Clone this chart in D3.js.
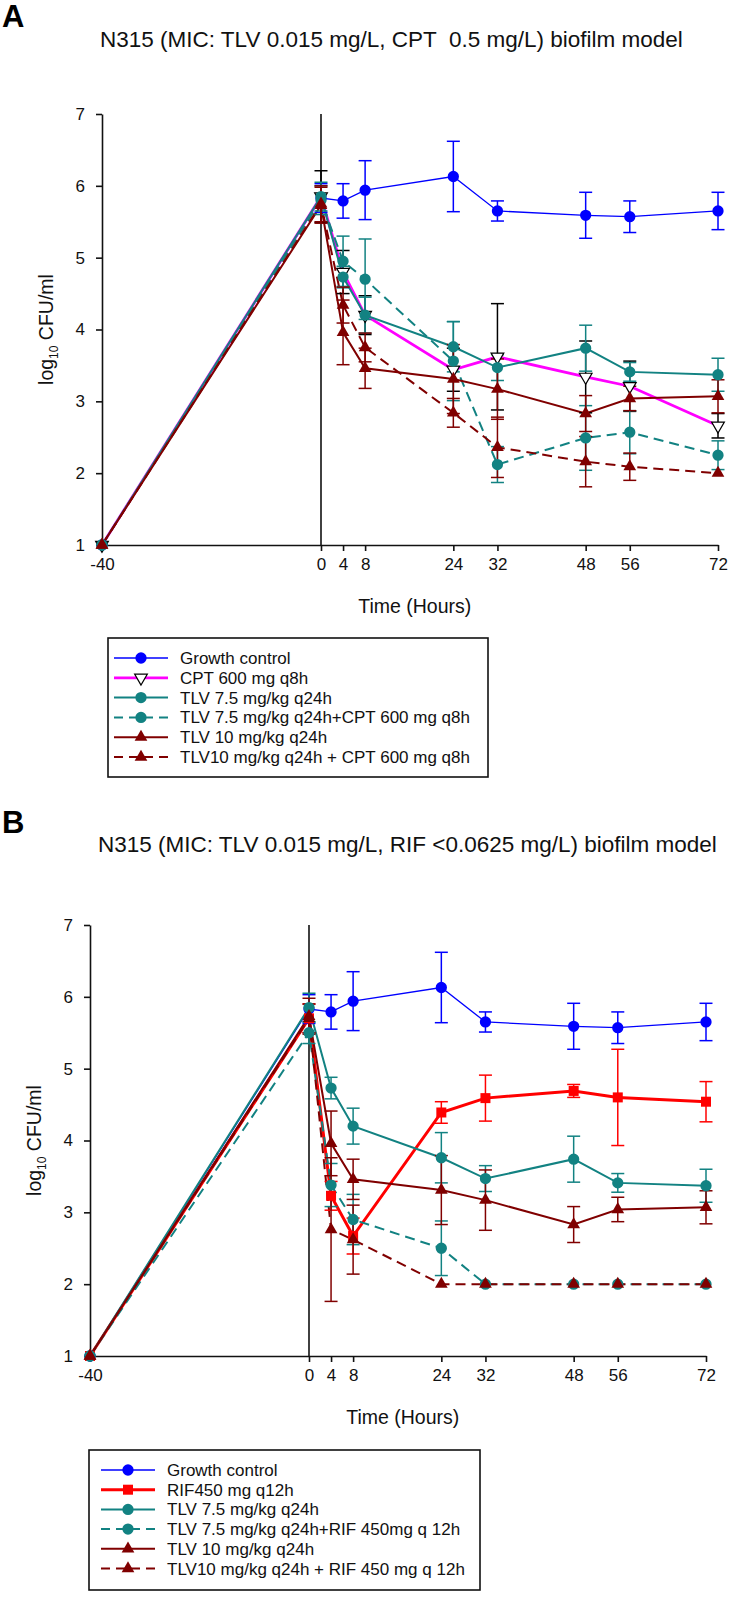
<!DOCTYPE html>
<html><head><meta charset="utf-8">
<script src="https://cdn.jsdelivr.net/npm/d3@7"></script>
<style>body{margin:0;background:#fff} svg{display:block} text{font-family:"Liberation Sans",Arial,sans-serif;fill:#111}</style>
</head><body><svg id="c" width="753" height="1599"></svg>
<script>
// ---------- data ----------
const times = [-40, 0, 4, 8, 24, 32, 48, 56, 72];
const xTickLabels = [-40, 0, 4, 8, 24, 32, 48, 56, 72];
const yTickLabels = [1, 2, 3, 4, 5, 6, 7];

const growth      = [1.0, 5.83, 5.79, 5.94, 6.13, 5.65, 5.59, 5.57, 5.65];
const growthErr   = [0, 0.20, 0.24, 0.41, 0.49, 0.14, 0.32, 0.22, 0.26];
const cpt         = [1.0, 5.85, 4.80, 4.20, 3.44, 3.62, 3.34, 3.21, 2.66];
const cptErr      = [0, 0.36, 0.30, 0.27, 0.30, 0.74, 0.50, 0.35, 0.17];
const tlv75       = [1.0, 5.85, 4.73, 4.20, 3.76, 3.47, 3.74, 3.41, 3.37];
const tlv75Err    = [0, 0.20, 0.15, 0.25, 0.35, 0.18, 0.32, 0.13, 0.23];
const tlv75cpt    = [1.0, 5.80, 4.95, 4.70, 3.56, 2.12, 2.49, 2.57, 2.25];
const tlv75cptErr = [0, 0.20, 0.35, 0.56, 0.55, 0.25, 0.45, 0.30, 0.20];
const tlv10       = [1.0, 5.73, 3.96, 3.46, 3.31, 3.17, 2.83, 3.04, 3.07];
const tlv10Err    = [0, 0.25, 0.45, 0.28, 0.48, 0.42, 0.25, 0.17, 0.23];
const tlv10cpt    = [1.0, 5.75, 4.34, 3.75, 2.84, 2.36, 2.16, 2.09, 2.00];
const tlv10cptErr = [0, 0.25, 0.25, 0.20, 0.20, 0.42, 0.35, 0.19, 0];

const rif         = [1.0, 5.70, 3.23, 2.67, 4.39, 4.59, 4.69, 4.60, 4.54];
const rifErr      = [0, 0.20, 0.20, 0.25, 0.15, 0.32, 0.09, 0.67, 0.28];
const tlv75rif    = [1.0, 5.50, 3.38, 2.90, 2.50, 2.00, 2.00, 2.00, 2.00];
const tlv75rifErr = [0, 0.15, 0.30, 0.35, 0.38, 0, 0, 0, 0];
const tlv10rif    = [1.0, 5.70, 2.76, 2.62, 2.00, 2.00, 2.00, 2.00, 2.00];
const tlv10rifErr = [0, 0.20, 1.00, 0.48, 0, 0, 0, 0, 0];

const namesA = ["Growth control", "CPT 600 mg q8h", "TLV 7.5 mg/kg q24h",
  "TLV 7.5 mg/kg q24h+CPT 600 mg q8h", "TLV 10 mg/kg q24h", "TLV10 mg/kg q24h + CPT 600 mg q8h"];
const namesB = ["Growth control", "RIF450 mg q12h", "TLV 7.5 mg/kg q24h",
  "TLV 7.5 mg/kg q24h+RIF 450mg q 12h", "TLV 10 mg/kg q24h", "TLV10 mg/kg q24h + RIF 450 mg q 12h"];

// ---------- styles ----------
const BLUE = "#0000ff", MAG = "#ff00ff", TEAL = "#128282", DRED = "#800000", RED = "#ff0000";
const DASH = "10,6";

const svg = d3.select("#c");
svg.append("rect").attr("width", 753).attr("height", 1599).attr("fill", "#fff");

function styleA() {
  return [
    {name: namesA[0], v: growth, e: growthErr, color: BLUE, ecol: BLUE, w: 1.3, dash: null, m: "circle", fill: BLUE},
    {name: namesA[1], v: cpt, e: cptErr, color: MAG, ecol: "#000", w: 2.8, dash: null, m: "down", fill: "#fff", stroke: "#000"},
    {name: namesA[2], v: tlv75, e: tlv75Err, color: TEAL, ecol: TEAL, w: 2, dash: null, m: "circle", fill: TEAL},
    {name: namesA[3], v: tlv75cpt, e: tlv75cptErr, color: TEAL, ecol: TEAL, w: 2, dash: DASH, m: "circle", fill: TEAL},
    {name: namesA[4], v: tlv10, e: tlv10Err, color: DRED, ecol: DRED, w: 2, dash: null, m: "up", fill: DRED},
    {name: namesA[5], v: tlv10cpt, e: tlv10cptErr, color: DRED, ecol: DRED, w: 2, dash: DASH, m: "up", fill: DRED}
  ];
}
function styleB() {
  return [
    {name: namesB[0], v: growth, e: growthErr, color: BLUE, ecol: BLUE, w: 1.3, dash: null, m: "circle", fill: BLUE},
    {name: namesB[1], v: rif, e: rifErr, color: RED, ecol: RED, w: 3, dash: null, m: "square", fill: RED},
    {name: namesB[2], v: tlv75, e: tlv75Err, color: TEAL, ecol: TEAL, w: 2, dash: null, m: "circle", fill: TEAL},
    {name: namesB[3], v: tlv75rif, e: tlv75rifErr, color: TEAL, ecol: TEAL, w: 2, dash: DASH, m: "circle", fill: TEAL},
    {name: namesB[4], v: tlv10, e: tlv10Err, color: DRED, ecol: DRED, w: 2, dash: null, m: "up", fill: DRED},
    {name: namesB[5], v: tlv10rif, e: tlv10rifErr, color: DRED, ecol: DRED, w: 2, dash: DASH, m: "up", fill: DRED}
  ];
}

function marker(g, s, x, y) {
  let sym;
  if (s.m === "circle") sym = d3.symbol().type(d3.symbolCircle).size(100);
  else if (s.m === "square") sym = d3.symbol().type(d3.symbolSquare).size(100);
  else sym = d3.symbol().type(d3.symbolTriangle).size(70);
  g.append("path").attr("d", sym())
    .attr("transform", `translate(${x},${y})` + (s.m === "down" ? " rotate(180)" : ""))
    .attr("fill", s.fill).attr("stroke", s.stroke || "none").attr("stroke-width", 1.2);
}

function panel(cfg) {
  const x = d3.scaleLinear().domain([-40, 0, 72]).range(cfg.xr);
  const y = d3.scaleLinear().domain([1, 7]).range(cfg.yr);
  const g = svg.append("g");

  // letter + title
  svg.append("text").attr("x", 2).attr("y", cfg.letterY).attr("font-size", 31).attr("font-weight", "bold")
    .style("fill", "#000").text(cfg.letter);
  svg.append("text").attr("x", cfg.titleX).attr("y", cfg.titleY).attr("font-size", 22.5)
    .style("white-space", "pre").text(cfg.title);

  // axes
  const ya = g.append("g").attr("transform", `translate(${cfg.xr[0]},0)`)
    .call(d3.axisLeft(y).tickValues(yTickLabels).tickSize(6).tickSizeOuter(0).tickPadding(11).tickFormat(d => String(d)));
  const xa = g.append("g").attr("transform", `translate(0,${cfg.yr[0]})`)
    .call(d3.axisBottom(x).tickValues(xTickLabels).tickSize(6).tickSizeOuter(0).tickPadding(7).tickFormat(d => String(d)));
  [ya, xa].forEach(a => {
    a.selectAll("path,line").attr("stroke", "#111").attr("stroke-width", 1.6);
    a.selectAll("text").attr("font-size", 17).attr("font-family", '"Liberation Sans",Arial,sans-serif').style("fill", "#111");
  });
  // vertical line at time 0
  g.append("line").attr("x1", x(0)).attr("x2", x(0)).attr("y1", y(1)).attr("y2", y(7))
    .attr("stroke", "#111").attr("stroke-width", 1.6);

  // axis titles
  const yl = svg.append("text").attr("transform", `translate(${cfg.ylabX},${(cfg.yr[0] + cfg.yr[1]) / 2}) rotate(-90)`)
    .attr("text-anchor", "middle").attr("font-size", 19.5);
  yl.append("tspan").text("log");
  yl.append("tspan").attr("font-size", 12).attr("dy", 5).text("10");
  yl.append("tspan").attr("dy", -5).text(" CFU/ml");
  svg.append("text").attr("x", x(17)).attr("y", cfg.yr[0] + 68)
    .attr("text-anchor", "middle").attr("font-size", 19.5).text("Time (Hours)");

  // series
  const series = cfg.series;
  const line = d3.line().x((d, i) => x(times[i])).y(d => y(d));
  series.forEach(s => {
    g.append("path").datum(s.v).attr("d", line).attr("fill", "none")
      .attr("stroke", s.color).attr("stroke-width", s.w).attr("stroke-dasharray", s.dash);
  });
  series.forEach(s => {
    s.v.forEach((v, i) => {
      const e = s.e[i];
      if (!e) return;
      const cx = x(times[i]);
      const eg = g.append("g").attr("stroke", s.ecol).attr("stroke-width", 1.5);
      eg.append("line").attr("x1", cx).attr("x2", cx).attr("y1", y(v - e)).attr("y2", y(v + e));
      eg.append("line").attr("x1", cx - 6.5).attr("x2", cx + 6.5).attr("y1", y(v - e)).attr("y2", y(v - e));
      eg.append("line").attr("x1", cx - 6.5).attr("x2", cx + 6.5).attr("y1", y(v + e)).attr("y2", y(v + e));
    });
  });
  series.forEach(s => {
    s.v.forEach((v, i) => marker(g, s, x(times[i]), y(v)));
  });

  // legend
  const L = cfg.legend;
  svg.append("rect").attr("x", L.x0).attr("y", L.y0).attr("width", L.x1 - L.x0).attr("height", L.y1 - L.y0)
    .attr("fill", "#fff").attr("stroke", "#111").attr("stroke-width", 1.6);
  series.forEach((s, i) => {
    const ry = L.row0 + i * L.step;
    const lx0 = L.x0 + L.pad, lx1 = lx0 + 54;
    svg.append("line").attr("x1", lx0).attr("x2", lx1).attr("y1", ry).attr("y2", ry)
      .attr("stroke", s.color).attr("stroke-width", s.w).attr("stroke-dasharray", s.dash ? "9,6" : null);
    marker(svg, s, (lx0 + lx1) / 2, ry);
    svg.append("text").attr("x", lx1 + 12).attr("y", ry + 6).attr("font-size", 17).text(s.name);
  });
}

panel({
  letter: "A", letterY: 27, title: "N315 (MIC: TLV 0.015 mg/L, CPT  0.5 mg/L) biofilm model",
  titleX: 100, titleY: 47, xr: [102, 321, 718], yr: [545, 114], ylabX: 53,
  series: styleA(),
  legend: {x0: 108, y0: 638, x1: 488, y1: 777, row0: 658, step: 19.8, pad: 6}
});
panel({
  letter: "B", letterY: 833, title: "N315 (MIC: TLV 0.015 mg/L, RIF <0.0625 mg/L) biofilm model",
  titleX: 98, titleY: 852, xr: [90, 309, 706], yr: [1356, 925], ylabX: 41,
  series: styleB(),
  legend: {x0: 89, y0: 1450, x1: 480, y1: 1590, row0: 1470, step: 19.7, pad: 12}
});
</script></body></html>
